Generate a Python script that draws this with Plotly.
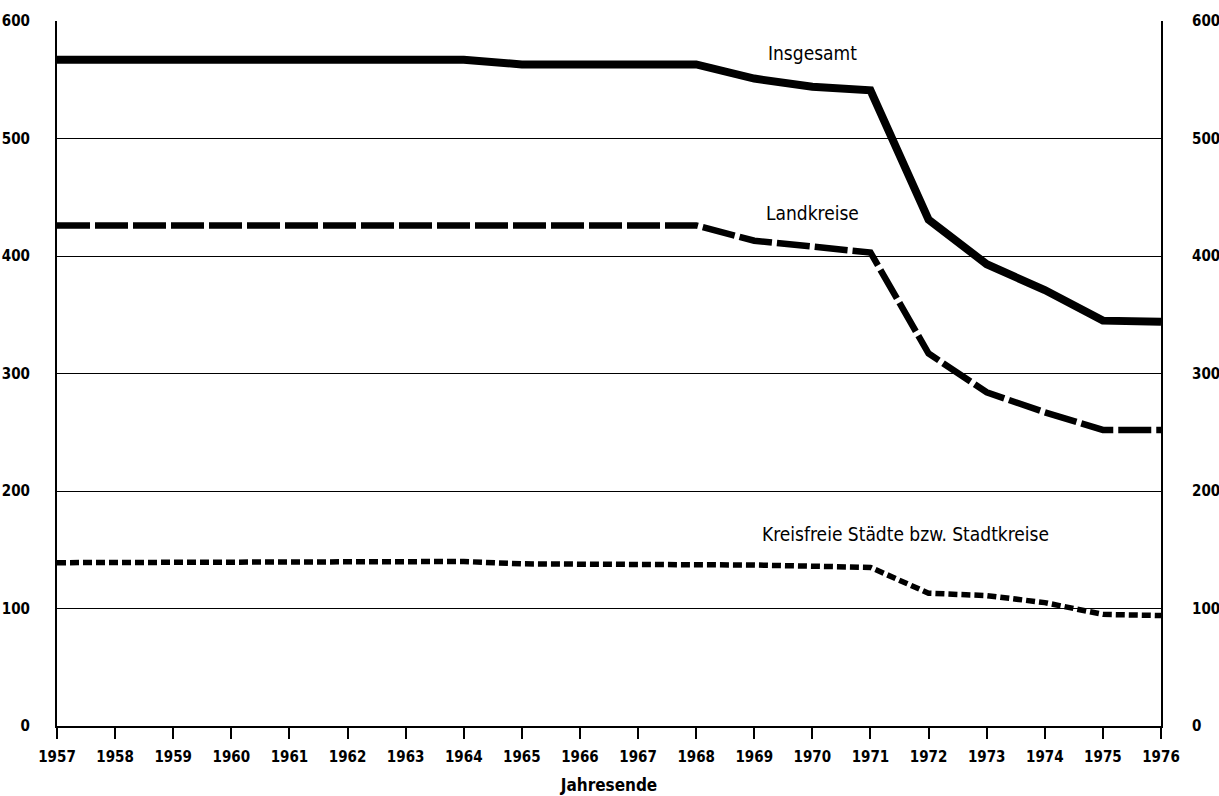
import plotly.graph_objects as go

years = list(range(1957, 1977))
insgesamt = [567, 567, 567, 567, 567, 567, 567, 567, 563, 563, 563, 563, 551, 544, 541, 431, 393, 371, 345, 344]
landkreise = [426, 426, 426, 426, 426, 426, 426, 426, 426, 426, 426, 426, 413, 408, 403, 317, 284, 267, 252, 252]
kreisfreie = [139, 139, 139, 139, 139, 139, 139, 140, 138, 138, 138, 138, 137, 136, 135, 113, 111, 105, 95, 94]
y_ticks = [0, 100, 200, 300, 400, 500, 600]

FONT = "DejaVu Sans Condensed, Liberation Sans, Arial, sans-serif"

fig = go.Figure()
fig.add_trace(go.Scatter(x=years, y=insgesamt, mode="lines", name="Insgesamt",
                         line=dict(color="black", width=8)))
fig.add_trace(go.Scatter(x=years, y=landkreise, mode="lines", name="Landkreise",
                         line=dict(color="black", width=6.5, dash="33px,5px")))
fig.add_trace(go.Scatter(x=years, y=kreisfreie, mode="lines", name="Kreisfreie Städte bzw. Stadtkreise",
                         line=dict(color="black", width=5.5, dash="9px,4px")))
# invisible trace to activate right axis
fig.add_trace(go.Scatter(x=[years[0]], y=[0], yaxis="y2", mode="lines",
                         line=dict(width=0), showlegend=False, hoverinfo="skip"))

fig.add_annotation(x=1970.0, y=573, text="Insgesamt", showarrow=False,
                   font=dict(family=FONT, size=19, color="black"), xanchor="center", yanchor="middle")
fig.add_annotation(x=1970.0, y=437, text="Landkreise", showarrow=False,
                   font=dict(family=FONT, size=19, color="black"), xanchor="center", yanchor="middle")
fig.add_annotation(x=1971.6, y=163, text="Kreisfreie Städte bzw. Stadtkreise", showarrow=False,
                   font=dict(family=FONT, size=19, color="black"), xanchor="center", yanchor="middle")

fig.update_layout(
    width=1219, height=796,
    margin=dict(l=57, r=58, t=21, b=70),
    paper_bgcolor="white", plot_bgcolor="white",
    showlegend=False,
    font=dict(family=FONT, color="black"),
    xaxis=dict(range=[1957, 1976], tickmode="array", tickvals=years,
               ticktext=[str(y) for y in years], automargin=False,
               ticks="outside", ticklen=11, tickwidth=2, tickcolor="black",
               ticklabelstandoff=5,
               showline=True, linewidth=2, linecolor="black", showgrid=False, zeroline=False,
               tickfont=dict(family=FONT, size=15, color="black", weight="bold"),
               title=dict(text="Jahresende", standoff=14,
                          font=dict(family=FONT, size=17, color="black", weight="bold"))),
    yaxis=dict(range=[0, 600], tickmode="array", tickvals=y_ticks, automargin=False,
               showgrid=True, gridcolor="black", gridwidth=1, zeroline=False,
               showline=True, linewidth=2, linecolor="black", ticks="",
               ticklabelstandoff=22,
               tickfont=dict(family=FONT, size=15, color="black", weight="bold")),
    yaxis2=dict(range=[0, 600], tickmode="array", tickvals=y_ticks, overlaying="y", side="right",
                showgrid=False, zeroline=False, automargin=False,
                showline=True, linewidth=2, linecolor="black", ticks="",
                ticklabelstandoff=26,
                tickfont=dict(family=FONT, size=15, color="black", weight="bold")),
)

fig.write_html("out.html", config={"displayModeBar": False},
               post_script="document.body.style.margin='0';document.body.style.overflow='hidden';")
